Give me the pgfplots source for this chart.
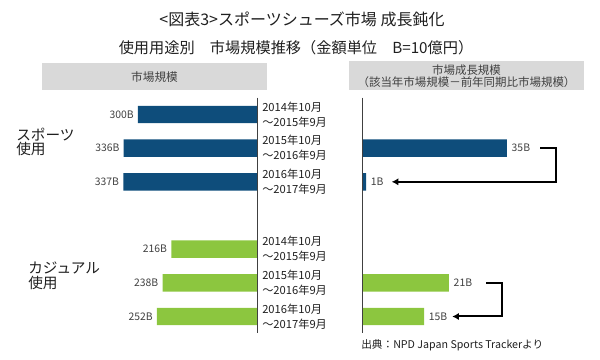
\documentclass[border=0pt]{standalone}
\usepackage{pgfplots}
\pgfplotsset{compat=1.18}
\usepackage{fontspec}
\setmainfont{Noto Sans CJK JP}
\usetikzlibrary{arrows.meta}
\definecolor{sblue}{RGB}{14,77,123}
\definecolor{sgreen}{RGB}{140,198,63}
\definecolor{hgray}{RGB}{217,217,217}
\definecolor{tgray}{RGB}{64,64,64}
\begin{document}
\begin{tikzpicture}
\begin{scope}[x=0.75pt,y=-0.75pt]
\useasboundingbox (0,0) rectangle (600,360);
\fill[hgray] (42,63) rectangle (267,90);
\fill[hgray] (349,61) rectangle (584,90);
\node[font=\fontsize{12}{14}\selectfont, text=black!88] at (302,19) {<図表3>スポーツシューズ市場 成長鈍化};
\node[font=\fontsize{11.4}{14}\selectfont, text=black!88] at (296,48) {使用用途別　市場規模推移（金額単位　B=10億円）};
\node[font=\fontsize{8.75}{9.2}\selectfont, text=tgray] at (154.5,77) {市場規模};
\node[font=\fontsize{8.6}{9.2}\selectfont, text=tgray, align=center, inner sep=0pt] at (466.5,76) {市場成長規模\\（該当年市場規模－前年同期比市場規模）};
\node[anchor=west, align=left, font=\fontsize{11}{11}\selectfont, inner sep=0pt, text=black!88] at (16,141.75) {スポーツ\\使用};
\node[anchor=west, align=left, font=\fontsize{11}{11}\selectfont, inner sep=0pt, text=black!88] at (28,276) {カジュアル\\使用};
\node[anchor=west, inner sep=0pt, font=\fontsize{8}{9}\selectfont, text=black!88] at (361,345) {出典：NPD Japan Sports Trackerより};
\end{scope}

\begin{axis}[
  at={(42.75pt,-73.25pt)}, anchor=north west,
  width=150pt, height=176.75pt, scale only axis,
  xbar, bar shift=0pt, bar width=13.1pt,
  xmin=0, xmax=504, x dir=reverse,
  ymin=-0.5, ymax=6.5, y dir=reverse,
  axis line style={draw=none}, xtick=\empty, ytick=\empty,
  clip=false,
  /pgf/number format/assume math mode=true,
  nodes near coords={\pgfmathprintnumber{\pgfplotspointmeta}B},
  every node near coord/.append style={anchor=east, font=\fontsize{7.8}{9}\selectfont, text=tgray, inner sep=0pt, xshift=-3pt},
]
\addplot[fill=sblue, draw=none, bar shift=0pt] coordinates {(300,0) (336,1) (337,2)};
\addplot[fill=sgreen, draw=none, bar shift=0pt] coordinates {(216,4) (238,5) (252,6)};
\draw[tgray, line width=0.75pt] (axis cs:0,-0.5) -- (axis cs:0,6.5);
\end{axis}

\begin{axis}[
  at={(271.5pt,-73.25pt)}, anchor=north west,
  width=171pt, height=176.75pt, scale only axis,
  xbar, bar shift=0pt, bar width=13.1pt,
  xmin=0, xmax=55.07,
  ymin=-0.5, ymax=6.5, y dir=reverse,
  axis line style={draw=none}, xtick=\empty,
  ytick={0,1,2,4,5,6},
  yticklabels={{2014年10月\\～2015年9月},{2015年10月\\～2016年9月},{2016年10月\\～2017年9月},{2014年10月\\～2015年9月},{2015年10月\\～2016年9月},{2016年10月\\～2017年9月}},
  yticklabel style={anchor=west, align=left, inner sep=0pt, xshift=-75pt, font=\fontsize{8.4}{11.25}\selectfont, text=black!88},
  major tick length=0pt,
  clip=false,
  /pgf/number format/assume math mode=true,
  nodes near coords={\pgfmathprintnumber{\pgfplotspointmeta}B},
  every node near coord/.append style={anchor=west, font=\fontsize{7.8}{9}\selectfont, text=tgray, inner sep=0pt, xshift=3.4pt},
]
\addplot[fill=sblue, draw=none, bar shift=0pt] coordinates {(35,1) (1,2)};
\addplot[fill=sgreen, draw=none, bar shift=0pt] coordinates {(21,5) (15,6)};
\draw[tgray, line width=0.75pt] (axis cs:0,-0.5) -- (axis cs:0,6.5);
\draw[black, line width=1.5pt, -{Latex[length=5pt,width=5.5pt]}] (axis cs:43,1) -- (axis cs:46.86,1) -- (axis cs:46.86,2) -- (axis cs:7.17,2);
\draw[black, line width=1.5pt, -{Latex[length=5pt,width=5.5pt]}] (axis cs:29.95,5) -- (axis cs:33.74,5) -- (axis cs:33.74,6) -- (axis cs:21.8,6);
\end{axis}
\end{tikzpicture}
\end{document}
